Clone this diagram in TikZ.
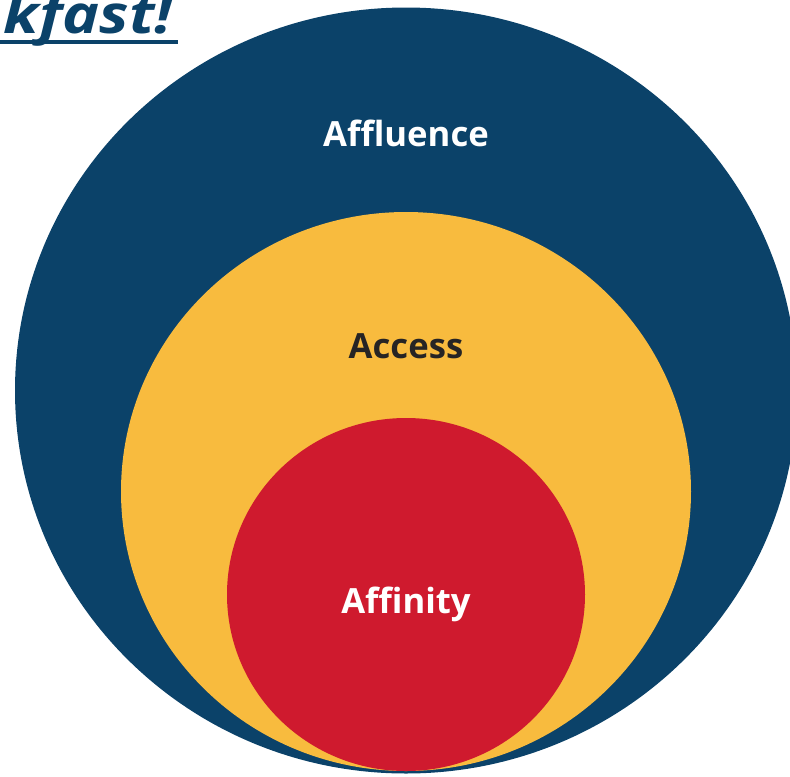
\documentclass[tikz,border=0pt]{standalone}
\usepackage{fontspec}
\setmainfont{Open Sans}
\usepackage{tikz}

\definecolor{affluenceblue}{RGB}{11,66,105}
\definecolor{accessyellow}{RGB}{248,187,62}
\definecolor{affinityred}{RGB}{207,26,46}
\definecolor{labeldark}{RGB}{38,36,36}

\begin{document}
\begin{tikzpicture}[x=0.75pt,y=0.75pt,yscale=-1,xscale=1,
  ringlabel/.style={anchor=base,inner sep=0.75pt,font=\fontsize{26}{30}\selectfont\bfseries}]
\useasboundingbox (0,0) rectangle (790,776);

%Shape: Ellipse [outer ring]
\draw [draw=none,fill=affluenceblue] (406,390.5) ellipse (391 and 383) ;
%Shape: Ellipse [middle ring]
\draw [draw=none,fill=accessyellow] (406,491.5) ellipse (285 and 279.5) ;
%Shape: Ellipse [inner ring]
\draw [draw=none,fill=affinityred] (406,594.5) ellipse (179 and 176.5) ;

% Text Node
\draw (406,146) node [ringlabel,text=white] (affluence) {Affluence};
% Text Node
\draw (406,358) node [ringlabel,text=labeldark] (access) {Access};
% Text Node
\draw (406,613) node [ringlabel,text=white] (affinity) {Affinity};
% Text Node
\draw (173,33) node [anchor=base east,inner sep=0pt,text=affluenceblue,font=\fontsize{40}{46}\selectfont\bfseries\itshape] (title) {\scalebox{1.17}[1]{kfast!}};
%Straight Lines [underline]
\draw [affluenceblue,line width=2.6pt] (-5,42) -- (title.base east |- 0,42) -- ++(5,0) ;

\end{tikzpicture}
\end{document}
